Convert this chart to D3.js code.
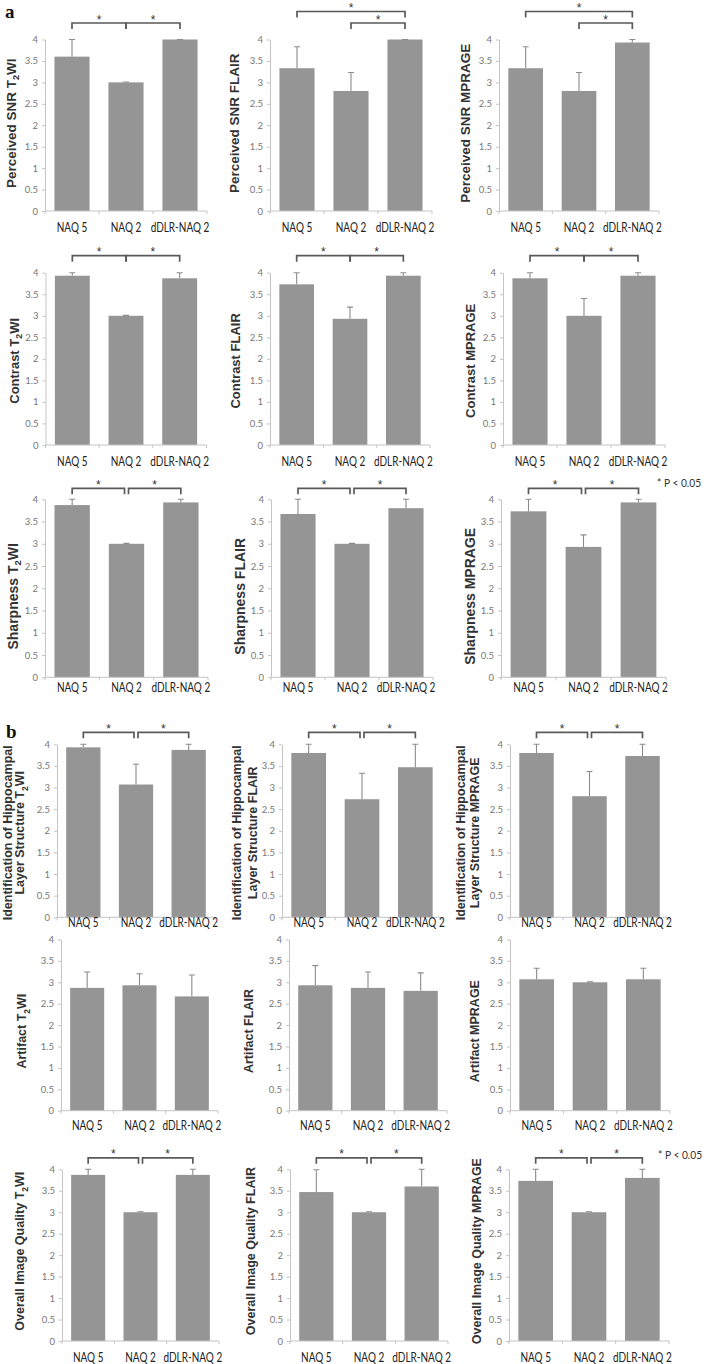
<!DOCTYPE html>
<html><head><meta charset="utf-8">
<script src="https://cdn.jsdelivr.net/npm/d3@7"></script>
<style>body{margin:0;background:#fff} svg{display:block}</style>
</head><body>
<svg id="chart" width="712" height="1364"></svg>
<script>
// ---------------- DATA ----------------
const categories = ["NAQ 5", "NAQ 2", "dDLR-NAQ 2"];
const yTicks = [0, 0.5, 1, 1.5, 2, 2.5, 3, 3.5, 4];
const sequences = ["T2WI", "FLAIR", "MPRAGE"];
const metricNames = ["Perceived SNR", "Contrast", "Sharpness",
  "Identification of Hippocampal|Layer Structure", "Artifact", "Overall Image Quality"];

// values: [sequence][category]
const perceivedSNR    = [[3.6, 3.0, 4.0], [3.33, 2.8, 4.0], [3.33, 2.8, 3.93]];
const perceivedSNRErr = [[0.4, 0.01, 0.0], [0.5, 0.43, 0.0], [0.5, 0.43, 0.07]];
const perceivedSNRSig = [[[0,1],[1,2]], [[0,2],[1,2]], [[0,2],[1,2]]];

const contrast    = [[3.93, 3.0, 3.87], [3.73, 2.93, 3.93], [3.87, 3.0, 3.93]];
const contrastErr = [[0.07, 0.01, 0.13], [0.27, 0.27, 0.07], [0.13, 0.4, 0.07]];
const contrastSig = [[[0,1],[1,2]], [[0,1],[1,2]], [[0,1],[1,2]]];

const sharpness    = [[3.87, 3.0, 3.93], [3.67, 3.0, 3.8], [3.73, 2.93, 3.93]];
const sharpnessErr = [[0.13, 0.01, 0.07], [0.33, 0.01, 0.2], [0.27, 0.27, 0.07]];
const sharpnessSig = [[[0,1],[1,2]], [[0,1],[1,2]], [[0,1],[1,2]]];

const hippocampal    = [[3.93, 3.07, 3.87], [3.8, 2.73, 3.47], [3.8, 2.8, 3.73]];
const hippocampalErr = [[0.07, 0.47, 0.13], [0.2, 0.6, 0.53], [0.2, 0.57, 0.27]];
const hippocampalSig = [[[0,1],[1,2]], [[0,1],[1,2]], [[0,1],[1,2]]];

const artifact    = [[2.87, 2.93, 2.67], [2.93, 2.87, 2.8], [3.07, 3.0, 3.07]];
const artifactErr = [[0.37, 0.27, 0.5], [0.46, 0.37, 0.42], [0.26, 0.01, 0.26]];
const artifactSig = [[], [], []];

const overall    = [[3.87, 3.0, 3.87], [3.47, 3.0, 3.6], [3.73, 3.0, 3.8]];
const overallErr = [[0.13, 0.01, 0.13], [0.52, 0.01, 0.4], [0.27, 0.01, 0.2]];
const overallSig = [[[0,1],[1,2]], [[0,1],[1,2]], [[0,1],[1,2]]];

const sigNote = "* P < 0.05";
const panelLetters = ["a", "b"];

const metricValues = [perceivedSNR, contrast, sharpness, hippocampal, artifact, overall];
const metricErrors = [perceivedSNRErr, contrastErr, sharpnessErr, hippocampalErr, artifactErr, overallErr];
const metricSig    = [perceivedSNRSig, contrastSig, sharpnessSig, hippocampalSig, artifactSig, overallSig];

// ---------------- LAYOUT ----------------
const rowY = [[39.5,211],[272.7,445],[499.3,677.3],[744.3,917.3],[939.5,1110.7],[1169.3,1341]];
const colX = [
  [[45,162],[270,162],[499,160]],
  [[45.5,161],[270,160],[503,162]],
  [[45,163],[271,162],[501,165]],
  [[57,158],[282,160],[510,159]],
  [[61,157],[289,158],[510,160]],
  [[62,157],[290,158],[509,160]]
];
const catLabelDy = [17, 17, 10.5, 5.5, 14.5, 17];
const bracketRise = [16.5, 17, 11, 12, 11, 11.5];
const bracketGap = [0, 0, 2, 2, 2, 2];
const titleX = [
  [[11],[234],[465]],
  [[14],[235],[470]],
  [[13],[240],[470]],
  [[7.5],[237],[461]].map((a, i) => [a[0], [20, 253, 475][i]]),
  [[22],[249],[475]],
  [[20],[251],[477]]
];
const titleDy = [-2, 2, 8, 2, 6, -4];
const titleSize = [13.5, 13, 14, 12.5, 12.5, 12.5];
const notePos = [[657, 487], [658, 1159]];
const letterPos = [[5, 18], [6, 738]];

const BAR = "#959595", ERR = "#8c8c8c", AXIS = "#c4c4c4", TICKTXT = "#777",
      CAT = "#222", TITLE = "#333", BRACKET = "#5a5a5a";

const svg = d3.select("#chart");

function addTitle(g, text, x, y, size) {
  const t = g.append("text")
    .attr("transform", `translate(${x},${y}) rotate(-90)`)
    .attr("text-anchor", "middle")
    .attr("dy", "0.35em")
    .attr("font-family", "'Liberation Sans', Arial, sans-serif")
    .attr("font-weight", "bold")
    .attr("font-size", size)
    .attr("fill", TITLE);
  const parts = text.split("T2");
  t.append("tspan").text(parts[0]);
  if (parts.length > 1) {
    t.append("tspan").text("T");
    t.append("tspan").text("2").attr("font-size", size * 0.68).attr("dy", size * 0.25);
    t.append("tspan").text(parts[1]).attr("dy", -size * 0.25);
  }
}

metricNames.forEach((metric, r) => {
  const [yTop, yBot] = rowY[r];
  sequences.forEach((seq, c) => {
    const [x0, w] = colX[r][c];
    const vals = metricValues[r][c];
    const errs = metricErrors[r][c];
    const sig = metricSig[r][c];

    const x = d3.scaleBand().domain(categories).range([x0, x0 + w])
      .paddingInner(0.35).paddingOuter(0.175);
    const y = d3.scaleLinear().domain([0, 4]).range([yBot, yTop]);
    const g = svg.append("g");

    // bars
    g.selectAll("rect.bar").data(vals).join("rect")
      .attr("x", (d, i) => x(categories[i]))
      .attr("y", d => y(d))
      .attr("width", x.bandwidth())
      .attr("height", d => y(0) - y(d))
      .attr("fill", BAR);

    // error bars
    g.selectAll("path.err").data(vals).join("path")
      .attr("d", (d, i) => {
        const cx = x(categories[i]) + x.bandwidth() / 2;
        const yt = y(d + errs[i]);
        return `M${cx},${y(d)}V${yt}M${cx - 3},${yt}H${cx + 3}`;
      })
      .attr("stroke", ERR).attr("stroke-width", 1.1).attr("fill", "none");

    // y axis
    const ya = g.append("g").attr("transform", `translate(${x0},0)`)
      .call(d3.axisLeft(y).tickValues(yTicks).tickSize(3).tickSizeOuter(0)
        .tickPadding(4).tickFormat(d3.format("")));
    ya.select(".domain").attr("stroke", AXIS);
    ya.selectAll(".tick line").attr("stroke", AXIS);
    ya.selectAll(".tick text").attr("fill", TICKTXT)
      .attr("font-family", "Lato, 'Open Sans', sans-serif").attr("font-size", 9.5);

    // x axis
    g.append("line").attr("x1", x0).attr("x2", x0 + w).attr("y1", yBot).attr("y2", yBot)
      .attr("stroke", AXIS);
    g.selectAll("line.xt").data(d3.range(categories.length + 1)).join("line")
      .attr("x1", k => x0 + k * x.step()).attr("x2", k => x0 + k * x.step())
      .attr("y1", yBot).attr("y2", yBot + 3).attr("stroke", AXIS);

    // category labels
    g.selectAll("text.cat").data(categories).join("text")
      .attr("transform", d => `translate(${x(d) + x.bandwidth() / 2},${yBot + catLabelDy[r] + 4.3}) scale(0.8,1)`)
      .attr("text-anchor", "middle")
      .attr("font-family", "Lato, 'Open Sans', sans-serif")
      .attr("font-size", 12.5).attr("fill", CAT)
      .text(d => d);

    // significance brackets
    sig.forEach(([i, j]) => {
      const level = (j - i) > 1 ? 1 : 0;
      const by = yTop - bracketRise[r] - level * 11.5;
      let xa = x(categories[i]) + x.bandwidth() / 2;
      let xb = x(categories[j]) + x.bandwidth() / 2;
      if (level === 0) {
        if (i === 1) xa += bracketGap[r];
        if (j === 1) xb -= bracketGap[r];
      }
      g.append("path")
        .attr("d", `M${xa},${by + 6}V${by}H${xb}V${by + 6}`)
        .attr("fill", "none").attr("stroke", BRACKET).attr("stroke-width", 1.7);
      g.append("text").attr("x", (xa + xb) / 2).attr("y", by + 0.5)
        .attr("text-anchor", "middle")
        .attr("font-family", "'Liberation Sans', Arial, sans-serif")
        .attr("font-size", 12).attr("fill", "#333").text("*");
    });

    // title
    const tx = titleX[r][c];
    const cy = (yTop + yBot) / 2 + titleDy[r];
    const lines = metric.split("|");
    if (lines.length === 1) {
      addTitle(g, `${metric} ${seq}`, tx[0], cy, titleSize[r]);
    } else {
      addTitle(g, lines[0], tx[0], cy, titleSize[r]);
      addTitle(g, `${lines[1]} ${seq}`, tx[1], cy, titleSize[r]);
    }
  });
});

// significance notes
notePos.forEach(([nx, ny]) => {
  svg.append("text")
    .attr("transform", `translate(${nx},${ny}) scale(0.85,1)`)
    .attr("font-family", "Lato, 'Open Sans', sans-serif")
    .attr("font-size", 12).attr("fill", "#333").text(sigNote);
});

// panel letters
panelLetters.forEach((l, k) => {
  svg.append("text").attr("x", letterPos[k][0]).attr("y", letterPos[k][1])
    .attr("font-family", "'Liberation Serif', 'Times New Roman', serif")
    .attr("font-weight", "bold").attr("font-size", 19).attr("fill", "#111").text(l);
});
</script>
</body></html>
